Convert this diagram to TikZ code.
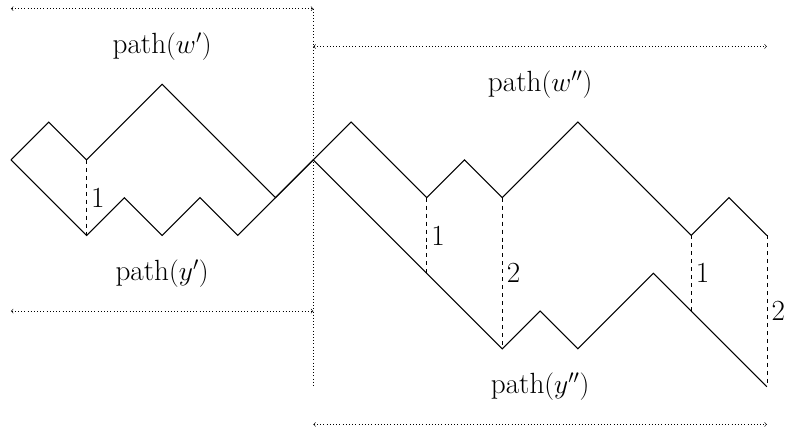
\documentclass[tikz,border=0pt]{standalone}
\usepackage{tikz}
\usepackage{xcolor}

\begin{document}
\begin{tikzpicture}[font=\fontsize{22}{26}\selectfont]
    \useasboundingbox (-0.29,-7.17) rectangle (20.48,4.23);
    % the two halves of the paths
    \draw[thick] (0,0) -- (1,1) -- (2,0) -- (4,2) -- (7,-1) -- (8,0);
    \draw[thick] (0,0) -- (2,-2) -- (3,-1) -- (4,-2) -- (5,-1) -- (6,-2) -- (7,-1) -- (8,0);
    \draw[thick] (8,0) -- (9,1) -- (11,-1) -- (12,0) -- (13,-1) -- (15,1) -- (18,-2) -- (19,-1) -- (20,-2);
    \draw[thick] (8,0) -- (13,-5) -- (14,-4) -- (15,-5) -- (17,-3) -- (20,-6);
    % gaps between upper and lower path
    \foreach \x/\top/\bot/\d in {2/0/-2/1, 11/-1/-3/1, 13/-1/-5/2, 18/-2/-4/1, 20/-2/-6/2}{
        \coordinate (u\x) at (\x,\top);
        \coordinate (l\x) at (\x,\bot);
        \draw[dashed] (u\x) -- node[right] {\d} (l\x);
    }
    % splitting point and spans
    \coordinate (tl) at (0,4);
    \coordinate (tm) at (8,4);
    \coordinate (wm) at (8,3);
    \coordinate (wr) at (20,3);
    \coordinate (bl) at (0,-4);
    \coordinate (bm) at (8,-4);
    \coordinate (ym) at (8,-7);
    \coordinate (yr) at (20,-7);
    \coordinate (foot) at (8,-6);
    \draw[dotted] (tm) -- (foot);
    \draw[<->,dotted] (tl) -- (tm);
    \draw[<->,dotted] (wm) -- (wr);
    \draw[<->,dotted] (bl) -- (bm);
    \draw[<->,dotted] (ym) -- (yr);
    \node (wp) at (4,3) {path$(w')$};
    \node (wpp) at (14,2) {path$(w'')$};
    \node (yp) at (4,-3) {path$(y')$};
    \node (ypp) at (14,-6) {path$(y'')$};
\end{tikzpicture}
\end{document}
